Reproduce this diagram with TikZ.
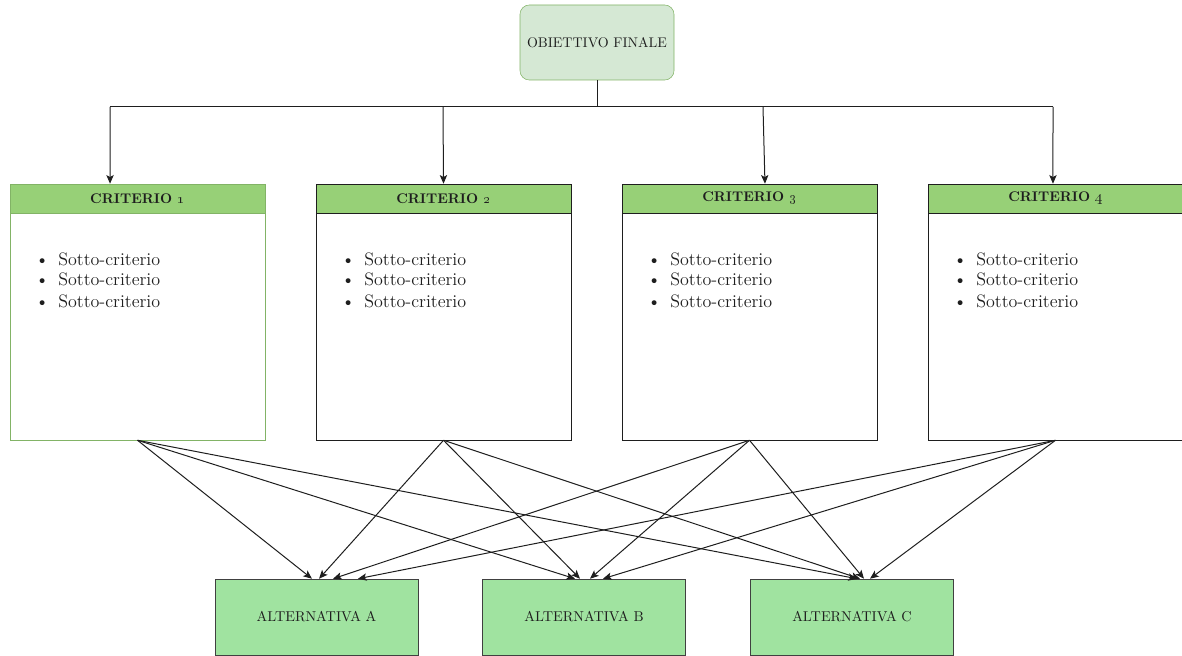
\documentclass[tikz,border=0pt]{standalone}
\usetikzlibrary{arrows.meta,calc}
\definecolor{leafgreen}{HTML}{97D077}
\definecolor{palegreen}{HTML}{D5E8D4}
\definecolor{edgegreen}{HTML}{82B366}
\definecolor{altgreen}{HTML}{A0E3A0}
\definecolor{ink}{HTML}{1E1E1E}
\begin{document}
\begin{tikzpicture}[x=0.75pt,y=-0.75pt,
  link/.style={draw=ink, line width=0.75pt},
  arr/.style={link,-{Stealth[length=6.5pt,width=5.5pt,inset=1.5pt]}},
  goal/.style={draw=edgegreen, fill=palegreen, rounded corners=7pt,
    minimum width=115.5pt, minimum height=56.25pt, inner sep=0,
    font=\fontsize{10.5}{12}\selectfont, text=ink},
  critbox/.style={draw=ink, fill=white, minimum width=191.25pt,
    minimum height=192pt, inner sep=0},
  crithead/.style={draw=ink, fill=leafgreen, minimum width=191.25pt,
    minimum height=21.75pt, inner sep=0,
    font=\fontsize{10.5}{12}\selectfont\bfseries, text=ink},
  subitem/.style={anchor=base west, inner sep=0,
    font=\fontsize{13.5}{15}\selectfont, text=ink},
  altbox/.style={draw=ink!85, fill=altgreen, minimum width=152.25pt,
    minimum height=57pt, inner sep=0,
    font=\fontsize{10.7}{12}\selectfont, text=ink}]
\useasboundingbox (0,0) rectangle (1182,656);

% goal
\node[goal] (goal) at (597,42.5) {OBIETTIVO FINALE};

% criteria with their sub-criteria
\foreach \i/\cx/\col in {1/137.5/edgegreen,2/443.5/ink,3/749.5/ink,4/1055.5/ink} {
  \node[critbox, draw=\col] (c\i) at (\cx,312) {};
  \node[crithead, draw=\col] (h\i) at (\cx,198.5)
    {CRITERIO {\fontseries{b}\selectfont\oldstylenums{\i}}};
  \foreach \k in {1,2,3} {
    \node[subitem] (s\i-\k) at (\cx-102.5,244+21*\k)
      {\textbullet\hspace{7pt}Sotto-criterio};
  }
}

% alternatives
\node[altbox] (aA) at (316.5,617) {ALTERNATIVA A};
\node[altbox] (aB) at (584,617) {ALTERNATIVA B};
\node[altbox] (aC) at (852,617) {ALTERNATIVA C};

% goal to criteria
\coordinate (j0) at (597,107);
\coordinate (j1) at (110,107);
\coordinate (j2) at (443,107);
\coordinate (j3) at (763,107);
\coordinate (j4) at (1053,107);
\draw[link] (goal.south) -- (j0);
\draw[link] (j1) -- (j4);
\draw[arr] (j1) -- ([xshift=-20.6pt]h1.north);
\draw[arr] (j2) -- (h2.north);
\draw[arr] (j3) -- ([xshift=11.6pt]h3.north);
\draw[arr] (j4) -- ([xshift=-1.9pt]h4.north);

% criteria to alternatives
\foreach \i/\a/\b/\c in {1/-3.4/-6.75/3.75, 2/1.9/-3/6, 3/12.4/4.5/9, 4/31.1/14.25/13.5} {
  \draw[arr] (c\i.south) -- ([xshift=\a pt]aA.north);
  \draw[arr] (c\i.south) -- ([xshift=\b pt]aB.north);
  \draw[arr] (c\i.south) -- ([xshift=\c pt]aC.north);
}
\end{tikzpicture}
\end{document}
